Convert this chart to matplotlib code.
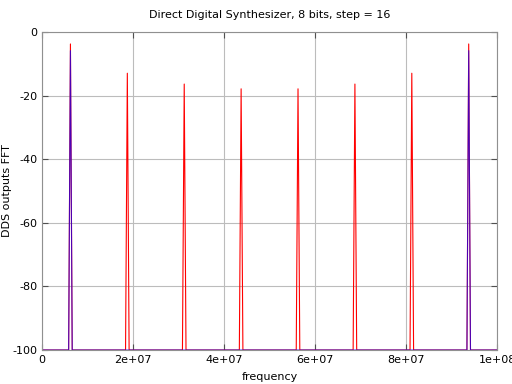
import numpy as np
import matplotlib
matplotlib.use('Agg')
import matplotlib.pyplot as plt

plt.rcParams['axes.unicode_minus'] = False

# Datos (frecuencias en Hz, niveles en dB)
fs = 100e6
n_fft = 256
red_peak_freqs = [6.25e6, 18.75e6, 31.25e6, 43.75e6, 56.25e6, 68.75e6, 81.25e6, 93.75e6]
red_peak_db = [-3.8, -13.0, -16.4, -17.9, -17.9, -16.4, -13.0, -3.8]
blue_peak_freqs = [6.25e6, 93.75e6]
blue_peak_db = [-5.9, -5.9]
floor_db = -100

x_ticks = [0, 2e7, 4e7, 6e7, 8e7, 1e8]
x_labels = ['0', '2e+07', '4e+07', '6e+07', '8e+07', '1e+08']
y_ticks = [0, -20, -40, -60, -80, -100]


def spectrum(freqs, levels):
    # cada pico ocupa un bin de la FFT, el resto queda en el piso
    df = fs / n_fft
    xs, ys = [0.0], [floor_db]
    for f, v in zip(freqs, levels):
        xs += [f - df, f, f + df]
        ys += [floor_db, v, floor_db]
    xs.append(fs)
    ys.append(floor_db)
    return xs, ys


fig = plt.figure(figsize=(5.12, 3.84), dpi=100)
ax = fig.add_axes([0.082, 0.0885, 0.889, 0.8285])

rx, ry = spectrum(red_peak_freqs, red_peak_db)
bx, by = spectrum(blue_peak_freqs, blue_peak_db)
ax.plot(rx, ry, color='red', lw=0.8)
ax.plot(bx, by, color='blue', lw=0.8, alpha=0.7)

ax.set_xlim(0, fs)
ax.set_ylim(-100, 0)
ax.set_xticks(x_ticks)
ax.set_xticklabels(x_labels)
ax.set_yticks(y_ticks)

ax.grid(True, color='#bcbcbc', lw=0.8)
for s in ax.spines.values():
    s.set_color('#909090')
ax.tick_params(direction='in', top=True, right=True, length=4,
               color='#505050', labelsize=8)

ax.set_title('Direct Digital Synthesizer, 8 bits, step = 16', fontsize=8, pad=10)
ax.set_xlabel('frequency', fontsize=8, labelpad=5)
ax.set_ylabel('DDS outputs FFT', fontsize=8, labelpad=0)

fig.savefig('out.png', dpi=100)
